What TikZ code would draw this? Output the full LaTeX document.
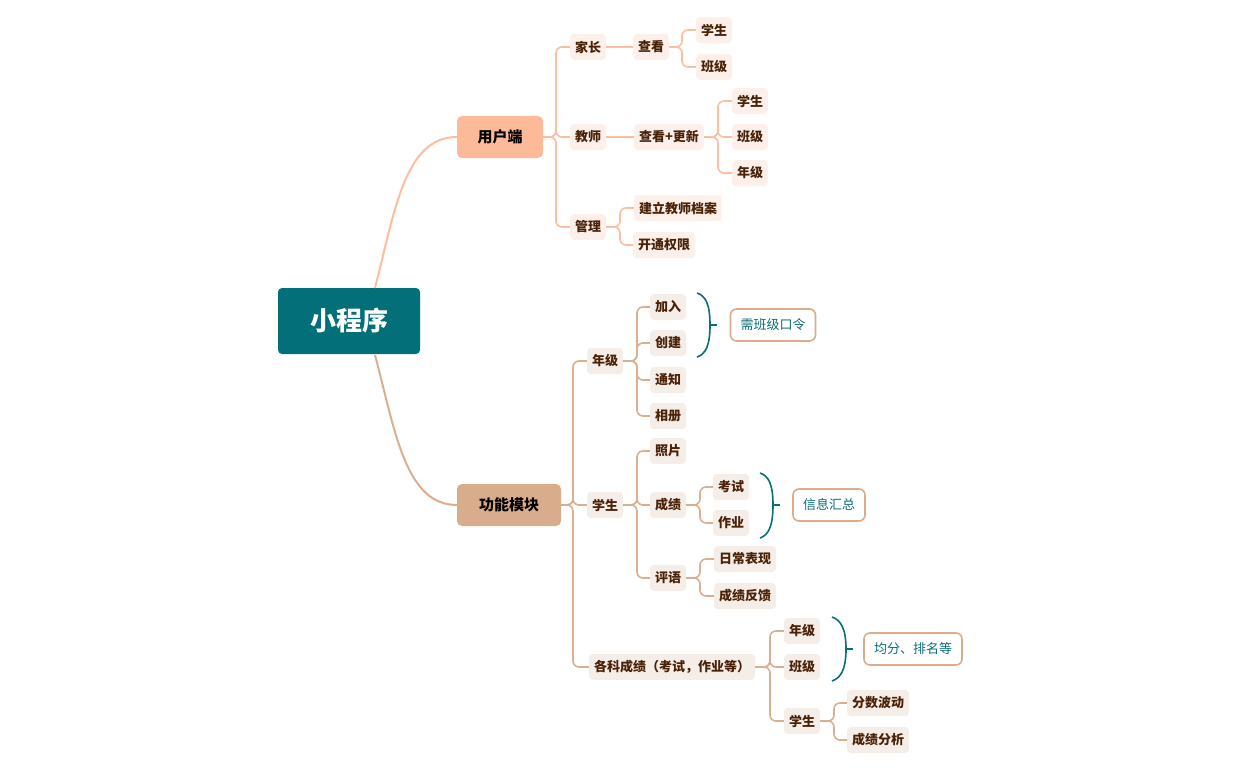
\documentclass[tikz,border=0pt]{standalone}
\usepackage{fontspec}
\setmainfont{Noto Sans CJK SC}
\definecolor{root}{HTML}{036F78}
\definecolor{tl}{HTML}{FDBE9F}
\definecolor{tf}{HTML}{FDF0EA}
\definecolor{tm}{HTML}{FDBA98}
\definecolor{bl}{HTML}{DBAE8E}
\definecolor{bf}{HTML}{F5EDE7}
\definecolor{bm}{HTML}{D9AC8C}
\definecolor{tx}{HTML}{4A2208}
\definecolor{teal}{HTML}{0B6F75}
\tikzset{
 leaf/.style={rounded corners=4,inner xsep=5pt,inner ysep=0pt,minimum height=26,text=tx,font=\fontsize{13}{15}\selectfont\bfseries},
 tleaf/.style={leaf,fill=tf},
 bleaf/.style={leaf,fill=bf},
 main/.style={rounded corners=5,minimum height=42,inner xsep=14pt,text=black,font=\fontsize{15}{17}\selectfont\bfseries},
 tln/.style={draw=tl,line width=1.6pt},
 bln/.style={draw=bl,line width=1.6pt},
 summ/.style={draw=bm,line width=1.6pt,rounded corners=6,fill=white,minimum height=32,inner xsep=10pt,text=teal,font=\fontsize{13}{15}\selectfont},
 brk/.style={draw=teal,line width=1.6pt}
}
\newcommand\mmconn[4]{\draw[#1,rounded corners=6] (#2.east) -- (#2.east -| #3) |- (#4.west);}
\begin{document}
\begin{tikzpicture}[x=1pt,y=-1pt]
\useasboundingbox (0,0) rectangle (1245,771);
\node[fill=root,rounded corners=4,minimum width=142,minimum height=66,text=white,font=\fontsize{26}{28}\selectfont\bfseries] (root) at (349,321) {小程序};
\node[main,fill=tm,minimum width=86] (U) at (500,137) {用户端};
\node[main,fill=bm,minimum width=104] (F) at (509,505) {功能模块};
\draw[draw=tl,line width=2pt] (375,288) .. controls (395,210) and (405,137) .. (U.west);
\draw[draw=bl,line width=2pt] (375,355) .. controls (395,430) and (405,505) .. (F.west);
% user side
\node[tleaf] (jz) at (588,47) {家长};
\node[tleaf] (js) at (588,137) {教师};
\node[tleaf] (gl) at (588,227) {管理};
\node[tleaf] (ck) at (651,47) {查看};
\node[tleaf] (ck1) at (714,30) {学生};
\node[tleaf] (ck2) at (714,67) {班级};
\node[tleaf] (cg) at (669,137) {查看+更新};
\node[tleaf] (cg1) at (750,101) {学生};
\node[tleaf] (cg2) at (750,137) {班级};
\node[tleaf] (cg3) at (750,173) {年级};
\node[tleaf] (g1) at (678,208) {建立教师档案};
\node[tleaf] (g2) at (664,245) {开通权限};
\coordinate (u0) at (556,0); \coordinate (u1) at (682,0); \coordinate (u2) at (718,0); \coordinate (u3) at (620,0);
\foreach \c in {jz,js,gl}{\mmconn{tln}{U}{u0}{\c}}
\draw[tln] (jz) -- (ck);
\foreach \c in {ck1,ck2}{\mmconn{tln}{ck}{u1}{\c}}
\draw[tln] (js) -- (cg);
\foreach \c in {cg1,cg2,cg3}{\mmconn{tln}{cg}{u2}{\c}}
\foreach \c in {g1,g2}{\mmconn{tln}{gl}{u3}{\c}}
% function side
\node[bleaf] (nj) at (605,361) {年级};
\node[bleaf] (xs) at (605,505) {学生};
\node[bleaf] (gk) at (672,667) {各科成绩（考试，作业等）};
\node[bleaf] (a1) at (668,307) {加入};
\node[bleaf] (a2) at (668,343) {创建};
\node[bleaf] (a3) at (668,380) {通知};
\node[bleaf] (a4) at (668,416) {相册};
\node[bleaf] (b1) at (668,451) {照片};
\node[bleaf] (b2) at (668,505) {成绩};
\node[bleaf] (b3) at (668,578) {评语};
\node[bleaf] (c1) at (731,487) {考试};
\node[bleaf] (c2) at (731,523) {作业};
\node[bleaf] (d1) at (745,559) {日常表现};
\node[bleaf] (d2) at (745,596) {成绩反馈};
\node[bleaf] (e1) at (802,631) {年级};
\node[bleaf] (e2) at (802,667) {班级};
\node[bleaf] (e3) at (802,721) {学生};
\node[bleaf] (f1) at (878,703) {分数波动};
\node[bleaf] (f2) at (878,740) {成绩分析};
\coordinate (v0) at (573,0); \coordinate (v1) at (637,0); \coordinate (v2) at (700,0); \coordinate (v3) at (770,0); \coordinate (v4) at (834,0);
\foreach \c in {nj,xs,gk}{\mmconn{bln}{F}{v0}{\c}}
\foreach \c in {a1,a2,a3,a4}{\mmconn{bln}{nj}{v1}{\c}}
\foreach \c in {b1,b2,b3}{\mmconn{bln}{xs}{v1}{\c}}
\foreach \c in {c1,c2}{\mmconn{bln}{b2}{v2}{\c}}
\foreach \c in {d1,d2}{\mmconn{bln}{b3}{v2}{\c}}
\foreach \c in {e1,e2,e3}{\mmconn{bln}{gk}{v3}{\c}}
\foreach \c in {f1,f2}{\mmconn{bln}{e3}{v4}{\c}}
% summaries
\node[summ] (s1) at (773,325) {需班级口令};
\node[summ] (s2) at (829,505) {信息汇总};
\node[summ] (s3) at (913,649) {均分、排名等};
\draw[brk] (697,293) .. controls (706,296) and (710,305) .. (710,325) .. controls (710,345) and (706,354) .. (697,357);
\draw[brk] (710,325) -- (717,325);
\draw[brk] (760,473) .. controls (769,476) and (773,485) .. (773,505) .. controls (773,525) and (769,535) .. (760,538);
\draw[brk] (773,505) -- (780,505);
\draw[brk] (832,617) .. controls (841,620) and (846,629) .. (846,649) .. controls (846,669) and (841,678) .. (832,681);
\draw[brk] (846,649) -- (853,649);
\end{tikzpicture}
\end{document}
